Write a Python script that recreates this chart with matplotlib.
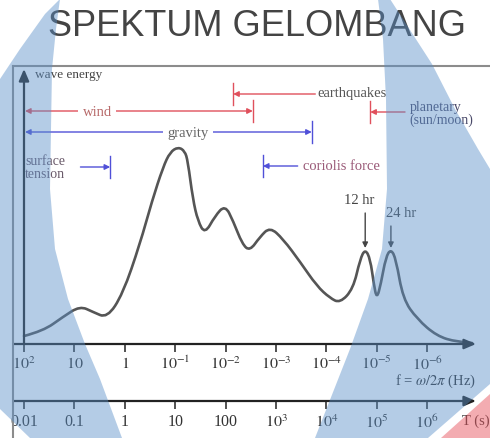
import matplotlib
matplotlib.use('Agg')
import matplotlib.pyplot as plt
from matplotlib.patches import Polygon, PathPatch
from matplotlib.path import Path
from matplotlib.lines import Line2D

# spectrum curve: log10(f in Hz) and wave energy (arbitrary)
log_f = [2.00, 1.62, 1.23, 0.89, 0.63, 0.35, 0.04, -0.30, -0.54, -0.76, -0.90,
         -1.06, -1.19, -1.25, -1.35, -1.45, -1.59, -1.79, -1.99, -2.15, -2.33,
         -2.48, -2.68, -2.88, -3.14, -3.48, -3.81, -4.07, -4.27, -4.53, -4.67,
         -4.77, -4.87, -4.94, -5.00, -5.08, -5.18, -5.28, -5.38, -5.52, -5.80,
         -6.19, -6.59, -6.89]
energy = [8, 13, 27, 38, 32, 26, 50, 100, 143, 177, 192,
          197, 193, 183, 145, 123, 110, 128, 139, 123, 100,
          93, 107, 117, 105, 82, 58, 46, 41, 55, 85,
          95, 85, 60, 45, 60, 87, 95, 85, 45, 25,
          8, 2, 1]

# band edges (Hz)
wind_edge = 10 ** -2.54
gravity_edge = 10 ** -3.71
tension_edge = 10 ** 0.29
quake_edge = 10 ** -2.15
coriolis_edge = 10 ** -2.74
planetary_edge = 10 ** -4.87
tide_freq = [10 ** -4.77, 10 ** -5.28]
tide_labels = ['12 hr', '24 hr']

f_ticks = [1e2, 1e1, 1e0, 1e-1, 1e-2, 1e-3, 1e-4, 1e-5, 1e-6]
f_labels = ['$10^2$', '$10$', '$1$', '$10^{-1}$', '$10^{-2}$', '$10^{-3}$',
            '$10^{-4}$', '$10^{-5}$', '$10^{-6}$']
T_ticks = [1e-2, 1e-1, 1e0, 1e1, 1e2, 1e3, 1e4, 1e5, 1e6]
T_labels = ['0.01', '0.1', '1', '10', '100', '$10^3$', '$10^4$', '$10^5$', '$10^6$']

plt.rcParams['font.family'] = 'serif'
plt.rcParams['font.serif'] = ['Liberation Serif', 'DejaVu Serif']
plt.rcParams['mathtext.fontset'] = 'stix'

W, H = 490, 439
fig = plt.figure(figsize=(4.9, 4.39), dpi=100)


def fx(x):
    return x / W


def fy(y):
    return 1 - y / H


# px 24 -> 10^2 Hz, 50.4 px per decade
lo = 10 ** (2 + 10 / 50.4)
hi = 10 ** (2 - 452 / 50.4)

ax = fig.add_axes([fx(14), fy(345), (476 - 14) / W, (345 - 65) / H])
ax.set_xscale('log')
ax.set_xlim(lo, hi)
ax.set_ylim(0, 280)
for s in ax.spines.values():
    s.set_visible(False)
ax.set_yticks([])
ax.set_xticks(f_ticks)
ax.set_xticklabels(f_labels, fontsize=11.5, color='#333333')
ax.minorticks_off()
ax.tick_params(axis='x', direction='out', length=6, width=1.2, pad=2, colors='#333333')
ax.patch.set_alpha(0)

# axes arrows
ax.annotate('', xy=(1, 0), xytext=(0, 0), xycoords='axes fraction',
            arrowprops=dict(arrowstyle='-|>,head_length=0.7,head_width=0.3',
                            color='#222222', lw=1.6, shrinkA=0, shrinkB=0))
ax.annotate('', xy=(1e2, 275), xytext=(1e2, 0),
            arrowprops=dict(arrowstyle='-|>,head_length=0.7,head_width=0.3',
                            color='#222222', lw=1.6, shrinkA=0, shrinkB=0))
ax.text(10 ** 1.78, 270, 'wave energy', fontsize=9.5, color='#444444', va='center')

# spectrum drawn as a smooth quadratic path through the read points
pts = list(zip(log_f, energy))
verts = [pts[0]]
codes = [Path.MOVETO]
for i in range(1, len(pts) - 1):
    nxt = pts[i + 1] if i == len(pts) - 2 else ((pts[i][0] + pts[i + 1][0]) / 2,
                                                (pts[i][1] + pts[i + 1][1]) / 2)
    verts += [pts[i], nxt]
    codes += [Path.CURVE3, Path.CURVE3]
verts = [(10 ** x, y) for x, y in verts]
ax.add_patch(PathPatch(Path(verts, codes), fc='none', ec='#555555', lw=1.9,
                       capstyle='round', joinstyle='round'))

red = '#e0505c'
blue = '#5050d8'
arr = dict(shrinkA=0, shrinkB=0, lw=1.0, mutation_scale=8)


def bar(f, e, c):
    ax.plot([f, f], [e - 11, e + 11], color=c, lw=1.0)


# wind
ax.annotate('', xy=(wind_edge, 233), xytext=(10 ** 1.98, 233),
            arrowprops=dict(arrowstyle='<|-|>', color=red, **arr))
bar(wind_edge, 233, red)
ax.text(10 ** 0.55, 233, 'wind', fontsize=10.5, color='#b86a6a', ha='center',
        va='center', bbox=dict(fc='white', ec='none', pad=3))
# gravity
ax.annotate('', xy=(gravity_edge, 212), xytext=(10 ** 1.98, 212),
            arrowprops=dict(arrowstyle='<|-|>', color=blue, **arr))
bar(gravity_edge, 212, blue)
ax.text(10 ** -1.26, 212, 'gravity', fontsize=10.5, color='#666666', ha='center',
        va='center', bbox=dict(fc='white', ec='none', pad=3))
# surface tension
ax.text(10 ** 1.98, 177, 'surface\ntension', fontsize=10, color='#6a5a6a',
        ha='left', va='center', linespacing=0.95)
ax.annotate('', xy=(tension_edge, 177), xytext=(10 ** 0.88, 177),
            arrowprops=dict(arrowstyle='-|>', color=blue, **arr))
bar(tension_edge, 177, blue)
# earthquakes
ax.annotate('', xy=(quake_edge, 250), xytext=(10 ** -3.78, 250),
            arrowprops=dict(arrowstyle='-|>', color=red, **arr))
bar(quake_edge, 250, red)
ax.text(10 ** -3.83, 251, 'earthquakes', fontsize=10.5, color='#555555',
        ha='left', va='center')
# coriolis
ax.annotate('', xy=(coriolis_edge, 178), xytext=(10 ** -3.43, 178),
            arrowprops=dict(arrowstyle='-|>', color=blue, **arr))
bar(coriolis_edge, 178, blue)
ax.text(10 ** -3.53, 178, 'coriolis force', fontsize=10.5, color='#9a5a78',
        ha='left', va='center')
# planetary
ax.annotate('', xy=(planetary_edge, 232), xytext=(10 ** -5.56, 232),
            arrowprops=dict(arrowstyle='-|>', color=red, **arr))
bar(planetary_edge, 232, red)
ax.text(10 ** -5.65, 231, 'planetary\n(sun/moon)', fontsize=10, color='#4a4a6a',
        ha='left', va='center', linespacing=0.95)

# tides
for f, lab, ytxt in zip(tide_freq, tide_labels, [138, 125]):
    ax.annotate('', xy=(f, 96), xytext=(f, ytxt - 7),
                arrowprops=dict(arrowstyle='-|>', color='#444444', **arr))
    ax.text(f * (10 ** 0.12 if lab == '12 hr' else 10 ** -0.2), ytxt, lab,
            fontsize=10.5, color='#444444', ha='center', va='bottom')

ax.text(1.0, -0.13, r'f = $\omega/2\pi$ (Hz)', transform=ax.transAxes,
        fontsize=10.5, color='#333333', ha='right', va='center', clip_on=False)

# period axis
ax2 = fig.add_axes([fx(14), fy(402), (476 - 14) / W, 0.0001])
ax2.set_xscale('log')
ax2.set_xlim(1 / lo, 1 / hi)
for s in ax2.spines.values():
    s.set_visible(False)
ax2.set_yticks([])
ax2.set_xticks(T_ticks)
ax2.set_xticklabels(T_labels, fontsize=11.5, color='#333333')
ax2.minorticks_off()
ax2.tick_params(axis='x', direction='out', length=6, width=1.2, pad=3, colors='#333333')
ax2.annotate('', xy=(1, 0), xytext=(0, 0), xycoords='axes fraction',
             arrowprops=dict(arrowstyle='-|>,head_length=0.7,head_width=0.3',
                             color='#222222', lw=1.6, shrinkA=0, shrinkB=0))
fig.text(fx(462), fy(421), 'T (s)', fontsize=10.5, color='#333333', va='center')

# slide frame and title
fig.add_artist(Line2D([fx(13), 1], [fy(67), fy(67)], color='#8c8c8c', lw=1.5))
fig.add_artist(Line2D([fx(13), fx(13)], [0, fy(67)], color='#8c8c8c', lw=1.5))
fig.text(fx(257), fy(26), 'SPEKTUM GELOMBANG', fontsize=26, family='Liberation Sans',
         color='#444444', ha='center', va='center')

# decorative overlay shapes
left_shape = [(60, 0), (56, 30), (52, 70), (50, 190), (55, 250), (68, 300), (85, 345),
              (100, 380), (122, 439), (30, 439), (0, 410), (0, 80), (20, 50), (45, 15)]
right_shape = [(378, 0), (390, 0), (432, 65), (455, 110), (478, 150), (490, 170),
               (490, 385), (428, 439), (315, 439), (350, 350), (368, 300),
               (382, 250), (387, 190), (386, 100), (383, 40)]
pink_shape = [(490, 395), (441, 439), (490, 439)]
for pts_, c, a in [(left_shape, '#5a8fc8', 0.45), (right_shape, '#5a8fc8', 0.45),
                   (pink_shape, '#e85a64', 0.5)]:
    fig.patches.append(Polygon([(fx(x), fy(y)) for x, y in pts_], closed=True,
                               transform=fig.transFigure, fc=c, ec='none',
                               alpha=a, zorder=10))

fig.savefig('out.png', dpi=100)
